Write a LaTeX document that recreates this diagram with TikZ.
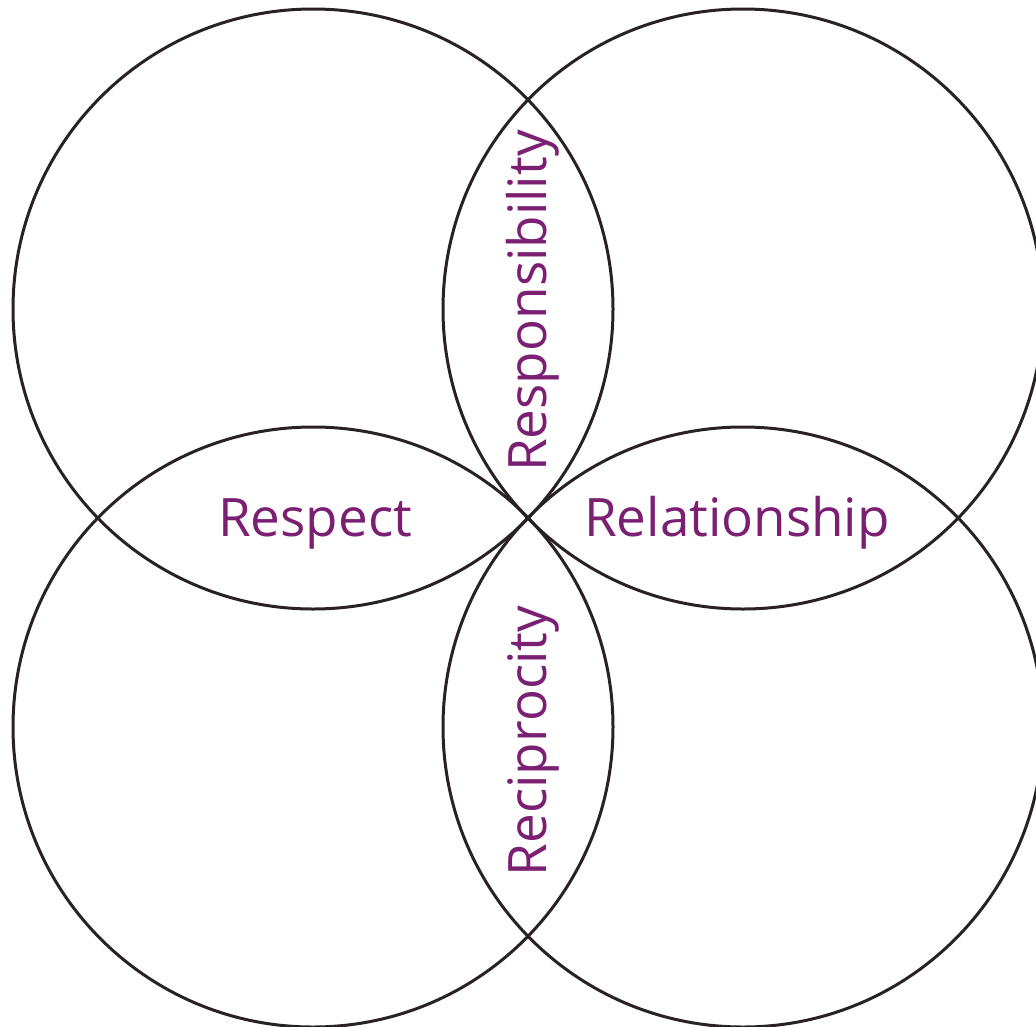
\documentclass[tikz,border=0pt]{standalone}
\usepackage{fontspec}
\setmainfont{Open Sans}
\usepackage{xcolor}
\definecolor{plum}{HTML}{7A1F72}
\definecolor{ring}{HTML}{2A2222}
\tikzset{
  circ/.style ={circle, draw=ring, line width=3pt, minimum size=600pt, inner sep=0pt},
  lbl/.style  ={text=plum, font=\fontsize{53}{53}\selectfont, inner sep=0pt, anchor=base},
  vlbl/.style ={lbl, rotate=90},
}
\begin{document}
\begin{tikzpicture}[x=1pt,y=-1pt]
\useasboundingbox (0,0) rectangle (1036,1026);

\node[circ] (tl) at (313,309) {};
\node[circ] (tr) at (743,309) {};
\node[circ] (bl) at (313,727) {};
\node[circ] (br) at (743,727) {};

\node[lbl] (respect) at (315,536) {Respect};
\node[lbl] (relation) at (737,536) {Relationship};
\node[vlbl] (respons) at (546,301) {Responsibility};
\node[vlbl] (recip) at (546,741) {Reciprocity};
\end{tikzpicture}
\end{document}
